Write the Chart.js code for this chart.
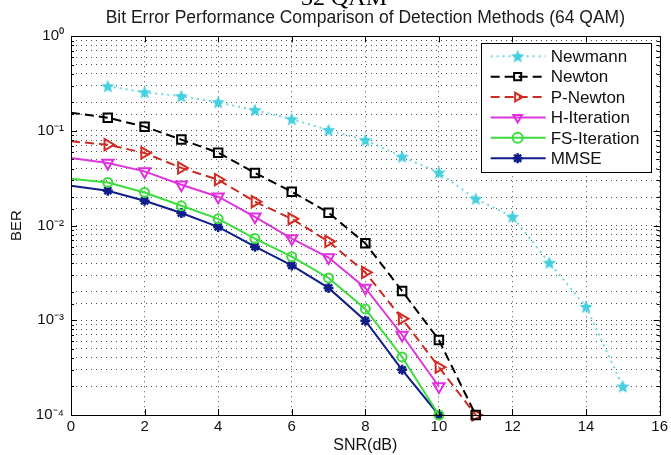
<!DOCTYPE html>
<html>
<head>
<meta charset="utf-8">
<script src="https://cdn.jsdelivr.net/npm/chart.js@4.4.0/dist/chart.umd.min.js"></script>
<style>
  html, body { margin: 0; padding: 0; background: #fff; }
  #wrap { width: 671px; height: 455px; }
</style>
</head>
<body>
<div id="wrap"><canvas id="berChart" width="671" height="455"></canvas></div>
<script>
// SNR (dB) positions of each curve
const snrNewmann = [1, 2, 3, 4, 5, 6, 7, 8, 9, 10, 11, 12, 13, 14, 15];
const snrNewton = [0, 1, 2, 3, 4, 5, 6, 7, 8, 9, 10, 11];
const snrIter = [0, 1, 2, 3, 4, 5, 6, 7, 8, 9, 10];

// BER values
const berNewmann = [0.296, 0.256, 0.233, 0.201, 0.166, 0.133, 0.102, 0.080, 0.0535, 0.0363, 0.0192, 0.0124, 0.00405, 0.00139, 0.0002];
const berNewton = [0.156, 0.138, 0.111, 0.081, 0.059, 0.036, 0.0228, 0.0137, 0.0065, 0.00204, 0.00062, 0.0001];
const berPNewton = [0.0776, 0.0716, 0.0585, 0.0407, 0.0306, 0.0179, 0.0118, 0.0068, 0.0032, 0.00104, 0.00032, 0.0001];
const berHIter = [0.0518, 0.0458, 0.0374, 0.027, 0.0202, 0.0124, 0.0073, 0.0046, 0.0022, 0.0007, 0.0002];
const berFSIter = [0.0313, 0.0286, 0.0224, 0.0162, 0.0118, 0.0073, 0.0047, 0.0028, 0.00132, 0.00041, 0.0001];
const berMMSE = [0.0264, 0.0234, 0.0183, 0.0136, 0.0097, 0.006, 0.0038, 0.0022, 0.00099, 0.0003, 0.0001];

const xTicks = [0, 2, 4, 6, 8, 10, 12, 14, 16];
const supers = { '0': '\u2070', '1': '\u00b9', '2': '\u00b2', '3': '\u00b3', '4': '\u2074', '-': '\u207b' };

const FONT = 'Arial, "Liberation Sans", sans-serif';

function toPoints(xs, ys) {
  return xs.map((x, i) => ({ x: x, y: ys[i] }));
}

// filled five point star, like matlab's 'p' marker
function pentagram(color, r) {
  const c = document.createElement('canvas');
  const s = Math.ceil(r * 2 + 2);
  c.width = s; c.height = s;
  const g = c.getContext('2d');
  g.translate(s / 2, s / 2 + 0.5);
  g.beginPath();
  for (let i = 0; i < 10; i++) {
    const rad = i % 2 ? r * 0.45 : r;
    const a = -Math.PI / 2 + i * Math.PI / 5;
    g.lineTo(rad * Math.cos(a), rad * Math.sin(a));
  }
  g.closePath();
  g.fillStyle = color;
  g.fill();
  return c;
}

const noFirst = r => ctx => (ctx.dataIndex === 0 ? 0 : r);

const frame = {
  id: 'frame',
  beforeDraw(chart) {
    const ctx = chart.ctx;
    ctx.save();
    ctx.fillStyle = '#000';
    ctx.font = '24px "Liberation Serif", "Times New Roman", serif';
    ctx.textAlign = 'center';
    ctx.textBaseline = 'alphabetic';
    ctx.fillText('32 QAM', 344, 5);
    ctx.restore();
  },
  afterDraw(chart) {
    const ctx = chart.ctx;
    const a = chart.chartArea;
    const xs = chart.scales.x, ys = chart.scales.y;
    ctx.save();
    ctx.strokeStyle = '#000';
    ctx.lineWidth = 1;
    ctx.strokeRect(Math.round(a.left) + 0.5, Math.round(a.top) + 0.5, Math.round(a.right - a.left), Math.round(a.bottom - a.top));
    ctx.beginPath();
    xs.ticks.forEach(t => {
      const px = Math.round(xs.getPixelForValue(t.value)) + 0.5;
      ctx.moveTo(px, a.bottom); ctx.lineTo(px, a.bottom - 6);
      ctx.moveTo(px, a.top); ctx.lineTo(px, a.top + 6);
    });
    ys.ticks.forEach(t => {
      const py = Math.round(ys.getPixelForValue(t.value)) + 0.5;
      const major = Math.abs(Math.log10(t.value) - Math.round(Math.log10(t.value))) < 1e-6;
      const len = major ? 6 : 3;
      ctx.moveTo(a.left, py); ctx.lineTo(a.left + len, py);
      ctx.moveTo(a.right, py); ctx.lineTo(a.right - len, py);
    });
    ctx.stroke();

    // legend box in the upper right of the axes
    const bx = a.right - 179, by = a.top + 7, bw = 170, bh = 129;
    ctx.fillStyle = '#fff';
    ctx.fillRect(bx, by, bw, bh);
    ctx.strokeRect(Math.round(bx) + 0.5, Math.round(by) + 0.5, bw, bh);
    ctx.font = '17px ' + FONT;
    ctx.textBaseline = 'middle';
    ctx.textAlign = 'left';
    chart.data.datasets.forEach((ds, i) => {
      const y = by + 13 + i * 20.4;
      ctx.save();
      ctx.strokeStyle = ds.borderColor;
      ctx.lineWidth = ds.borderWidth;
      ctx.setLineDash(ds.borderDash || []);
      ctx.beginPath();
      ctx.moveTo(bx + 10, y); ctx.lineTo(bx + 65, y);
      ctx.stroke();
      ctx.setLineDash([]);
      ctx.strokeStyle = ds.pointBorderColor;
      ctx.fillStyle = ds.pointBackgroundColor;
      ctx.lineWidth = ds.pointBorderWidth;
      Chart.helpers.drawPoint(ctx, {
        pointStyle: ds.pointStyle,
        rotation: ds.pointRotation || 0,
        radius: 5,
        borderWidth: ds.pointBorderWidth
      }, bx + 37, y);
      ctx.restore();
      ctx.fillStyle = '#111';
      ctx.fillText(ds.label, bx + 70, y + 1);
    });
    ctx.restore();
  }
};

const cyan = '#45cfdf';
const chart = new Chart(document.getElementById('berChart').getContext('2d'), {
  type: 'line',
  data: {
    datasets: [{
      label: 'Newmann',
      data: toPoints(snrNewmann, berNewmann),
      borderColor: '#6fd8e4',
      borderWidth: 2,
      borderDash: [2, 4],
      pointStyle: pentagram(cyan, 7),
      pointRadius: 6,
      pointBorderColor: cyan,
      pointBackgroundColor: cyan,
      pointBorderWidth: 1
    }, {
      label: 'Newton',
      data: toPoints(snrNewton, berNewton),
      borderColor: '#000',
      borderWidth: 2,
      borderDash: [9, 5],
      pointStyle: 'rect',
      pointRadius: noFirst(6),
      pointBorderColor: '#000',
      pointBackgroundColor: 'rgba(0,0,0,0)',
      pointBorderWidth: 2
    }, {
      label: 'P-Newton',
      data: toPoints(snrNewton, berPNewton),
      borderColor: '#cc2b22',
      borderWidth: 2,
      borderDash: [9, 5],
      pointStyle: 'triangle',
      pointRotation: 90,
      pointRadius: noFirst(6.5),
      pointBorderColor: '#d42a20',
      pointBackgroundColor: 'rgba(0,0,0,0)',
      pointBorderWidth: 2
    }, {
      label: 'H-Iteration',
      data: toPoints(snrIter, berHIter),
      borderColor: '#dc36dc',
      borderWidth: 2,
      pointStyle: 'triangle',
      pointRotation: 180,
      pointRadius: noFirst(6.5),
      pointBorderColor: '#e02ee0',
      pointBackgroundColor: 'rgba(0,0,0,0)',
      pointBorderWidth: 2
    }, {
      label: 'FS-Iteration',
      data: toPoints(snrIter, berFSIter),
      borderColor: '#3ddc3d',
      borderWidth: 2,
      pointStyle: 'circle',
      pointRadius: noFirst(4.5),
      pointBorderColor: '#3ddc3d',
      pointBackgroundColor: 'rgba(0,0,0,0)',
      pointBorderWidth: 2
    }, {
      label: 'MMSE',
      data: toPoints(snrIter, berMMSE),
      borderColor: '#101e8a',
      borderWidth: 2,
      pointStyle: 'star',
      pointRadius: noFirst(5),
      pointBorderColor: '#101e8a',
      pointBackgroundColor: '#101e8a',
      pointBorderWidth: 2.5
    }]
  },
  options: {
    responsive: false,
    animation: false,
    events: [],
    clip: false,
    layout: { padding: { left: 0, right: 9, top: 0, bottom: 0 } },
    plugins: {
      legend: { display: false },
      tooltip: { enabled: false },
      title: {
        display: true,
        fullSize: false,
        text: 'Bit Error Performance Comparison of Detection Methods (64 QAM)',
        color: '#1a1a1a',
        font: { family: FONT, size: 17.5, weight: 'normal', lineHeight: 1.1 },
        padding: { top: 9, bottom: 8 }
      }
    },
    scales: {
      x: {
        type: 'linear',
        min: 0,
        max: 16,
        afterBuildTicks: s => { s.ticks = xTicks.map(v => ({ value: v })); },
        afterFit: s => { s.height = 40; },
        grid: { color: 'rgba(0,0,0,0.7)', lineWidth: 1, drawTicks: false },
        border: { display: false, dash: [1, 4] },
        ticks: {
          color: '#111',
          padding: 3,
          font: { family: FONT, size: 15 }
        },
        title: {
          display: true,
          text: 'SNR(dB)',
          color: '#111',
          padding: { top: 0, bottom: 0 },
          font: { family: FONT, size: 16 }
        }
      },
      y: {
        type: 'logarithmic',
        min: 0.0001,
        max: 1,
        afterFit: s => { s.width = 71; },
        grid: { color: 'rgba(0,0,0,0.7)', lineWidth: 1, drawTicks: false },
        border: { display: false, dash: [1, 4] },
        ticks: {
          autoSkip: false,
          color: '#111',
          padding: 7,
          font: { family: FONT, size: 15 },
          callback: v => {
            const e = Math.log10(v);
            if (Math.abs(e - Math.round(e)) > 1e-6) return '';
            return '10' + String(Math.round(e)).split('').map(ch => supers[ch]).join('');
          }
        },
        title: {
          display: true,
          text: 'BER',
          color: '#111',
          padding: { top: 8, bottom: 0 },
          font: { family: FONT, size: 15 }
        }
      }
    }
  },
  plugins: [frame]
});
</script>
</body>
</html>
